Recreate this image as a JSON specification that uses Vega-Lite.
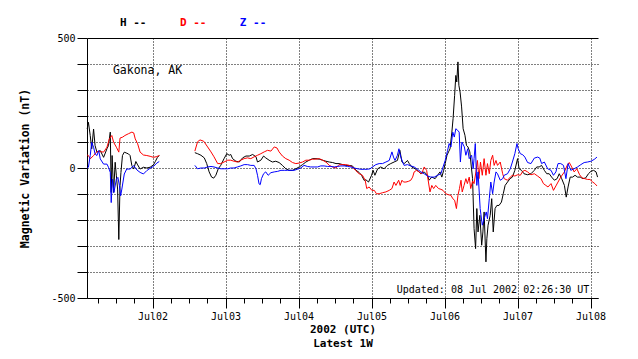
{
"$schema": "https://vega.github.io/schema/vega-lite/v6.json",
"width": 511, "height": 260,
"autosize": "none",
"padding": {"left": 87, "top": 38, "right": 40, "bottom": 61},
"background": "white",
"config": {"view": {"stroke": null}, "font": "DejaVu Sans Mono"},
"layer": [
{
"data": {"values": [
{"t":"2002-07-01T02:30Z","v":150,"s":"H","g":1},{"t":"2002-07-01T02:54Z","v":176,"s":"H","g":1},{"t":"2002-07-01T03:30Z","v":125,"s":"H","g":1},{"t":"2002-07-01T04:00Z","v":74,"s":"H","g":1},{"t":"2002-07-01T04:36Z","v":150,"s":"H","g":1},{"t":"2002-07-01T05:06Z","v":86,"s":"H","g":1},{"t":"2002-07-01T05:42Z","v":61,"s":"H","g":1},{"t":"2002-07-01T06:48Z","v":67,"s":"H","g":1},{"t":"2002-07-01T07:54Z","v":41,"s":"H","g":1},{"t":"2002-07-01T09:00Z","v":74,"s":"H","g":1},{"t":"2002-07-01T09:30Z","v":86,"s":"H","g":1},{"t":"2002-07-01T10:06Z","v":138,"s":"H","g":1},{"t":"2002-07-01T10:24Z","v":-94,"s":"H","g":1},{"t":"2002-07-01T10:42Z","v":48,"s":"H","g":1},{"t":"2002-07-01T11:12Z","v":-94,"s":"H","g":1},{"t":"2002-07-01T11:42Z","v":22,"s":"H","g":1},{"t":"2002-07-01T12:06Z","v":-30,"s":"H","g":1},{"t":"2002-07-01T12:30Z","v":-81,"s":"H","g":1},{"t":"2002-07-01T12:54Z","v":-275,"s":"H","g":1},{"t":"2002-07-01T13:18Z","v":-68,"s":"H","g":1},{"t":"2002-07-01T13:36Z","v":-17,"s":"H","g":1},{"t":"2002-07-01T14:06Z","v":48,"s":"H","g":1},{"t":"2002-07-01T14:42Z","v":61,"s":"H","g":1},{"t":"2002-07-01T15:18Z","v":58,"s":"H","g":1},{"t":"2002-07-01T16:06Z","v":54,"s":"H","g":1},{"t":"2002-07-01T16:36Z","v":48,"s":"H","g":1},{"t":"2002-07-01T17:12Z","v":9,"s":"H","g":1},{"t":"2002-07-01T17:48Z","v":-4,"s":"H","g":1},{"t":"2002-07-01T18:30Z","v":25,"s":"H","g":1},{"t":"2002-07-01T19:06Z","v":12,"s":"H","g":1},{"t":"2002-07-01T19:54Z","v":-4,"s":"H","g":1},{"t":"2002-07-01T21:00Z","v":3,"s":"H","g":1},{"t":"2002-07-01T22:06Z","v":0,"s":"H","g":1},{"t":"2002-07-01T23:12Z","v":3,"s":"H","g":1},{"t":"2002-07-02T00:18Z","v":12,"s":"H","g":1},{"t":"2002-07-02T00:54Z","v":25,"s":"H","g":1},{"t":"2002-07-02T01:36Z","v":41,"s":"H","g":1},{"t":"2002-07-02T02:12Z","v":48,"s":"H","g":1},
{"t":"2002-07-02T13:54Z","v":59,"s":"H","g":2},{"t":"2002-07-02T14:48Z","v":55,"s":"H","g":2},{"t":"2002-07-02T15:54Z","v":49,"s":"H","g":2},{"t":"2002-07-02T17:00Z","v":39,"s":"H","g":2},{"t":"2002-07-02T17:48Z","v":17,"s":"H","g":2},{"t":"2002-07-02T18:36Z","v":-15,"s":"H","g":2},{"t":"2002-07-02T19:24Z","v":-35,"s":"H","g":2},{"t":"2002-07-02T20:06Z","v":-39,"s":"H","g":2},{"t":"2002-07-02T20:48Z","v":-28,"s":"H","g":2},{"t":"2002-07-02T21:36Z","v":-3,"s":"H","g":2},{"t":"2002-07-02T22:24Z","v":10,"s":"H","g":2},{"t":"2002-07-02T23:30Z","v":36,"s":"H","g":2},{"t":"2002-07-03T00:24Z","v":55,"s":"H","g":2},{"t":"2002-07-03T01:12Z","v":49,"s":"H","g":2},{"t":"2002-07-03T01:42Z","v":52,"s":"H","g":2},{"t":"2002-07-03T02:18Z","v":36,"s":"H","g":2},{"t":"2002-07-03T03:24Z","v":26,"s":"H","g":2},{"t":"2002-07-03T04:30Z","v":23,"s":"H","g":2},{"t":"2002-07-03T05:36Z","v":39,"s":"H","g":2},{"t":"2002-07-03T06:42Z","v":46,"s":"H","g":2},{"t":"2002-07-03T07:48Z","v":46,"s":"H","g":2},{"t":"2002-07-03T08:54Z","v":52,"s":"H","g":2},{"t":"2002-07-03T10:00Z","v":43,"s":"H","g":2},{"t":"2002-07-03T10:30Z","v":23,"s":"H","g":2},{"t":"2002-07-03T11:36Z","v":30,"s":"H","g":2},{"t":"2002-07-03T12:30Z","v":46,"s":"H","g":2},{"t":"2002-07-03T13:12Z","v":39,"s":"H","g":2},{"t":"2002-07-03T14:18Z","v":30,"s":"H","g":2},{"t":"2002-07-03T15:24Z","v":23,"s":"H","g":2},{"t":"2002-07-03T16:30Z","v":26,"s":"H","g":2},{"t":"2002-07-03T17:36Z","v":21,"s":"H","g":2},{"t":"2002-07-03T18:42Z","v":10,"s":"H","g":2},{"t":"2002-07-03T19:48Z","v":-3,"s":"H","g":2},{"t":"2002-07-03T20:54Z","v":-9,"s":"H","g":2},{"t":"2002-07-03T22:00Z","v":-9,"s":"H","g":2},{"t":"2002-07-03T23:06Z","v":-3,"s":"H","g":2},{"t":"2002-07-04T00:12Z","v":4,"s":"H","g":2},{"t":"2002-07-04T01:18Z","v":13,"s":"H","g":2},{"t":"2002-07-04T02:24Z","v":23,"s":"H","g":2},{"t":"2002-07-04T03:30Z","v":30,"s":"H","g":2},{"t":"2002-07-04T04:36Z","v":36,"s":"H","g":2},{"t":"2002-07-04T05:42Z","v":36,"s":"H","g":2},{"t":"2002-07-04T06:48Z","v":34,"s":"H","g":2},{"t":"2002-07-04T07:54Z","v":30,"s":"H","g":2},{"t":"2002-07-04T09:00Z","v":26,"s":"H","g":2},{"t":"2002-07-04T10:06Z","v":23,"s":"H","g":2},{"t":"2002-07-04T11:12Z","v":21,"s":"H","g":2},{"t":"2002-07-04T12:18Z","v":17,"s":"H","g":2},{"t":"2002-07-04T13:18Z","v":17,"s":"H","g":2},{"t":"2002-07-04T14:30Z","v":13,"s":"H","g":2},{"t":"2002-07-04T15:30Z","v":10,"s":"H","g":2},{"t":"2002-07-04T16:36Z","v":10,"s":"H","g":2},{"t":"2002-07-04T17:42Z","v":8,"s":"H","g":2},{"t":"2002-07-04T18:48Z","v":-8,"s":"H","g":2},{"t":"2002-07-04T19:54Z","v":-17,"s":"H","g":2},{"t":"2002-07-04T20:42Z","v":-28,"s":"H","g":2},{"t":"2002-07-04T21:36Z","v":-48,"s":"H","g":2},{"t":"2002-07-04T22:06Z","v":-45,"s":"H","g":2},{"t":"2002-07-04T23:00Z","v":-54,"s":"H","g":2},{"t":"2002-07-05T00:00Z","v":-28,"s":"H","g":2},{"t":"2002-07-05T00:30Z","v":-9,"s":"H","g":2},{"t":"2002-07-05T01:06Z","v":-28,"s":"H","g":2},{"t":"2002-07-05T02:00Z","v":-3,"s":"H","g":2},{"t":"2002-07-05T03:00Z","v":4,"s":"H","g":2},{"t":"2002-07-05T04:06Z","v":-3,"s":"H","g":2},{"t":"2002-07-05T05:12Z","v":10,"s":"H","g":2},{"t":"2002-07-05T06:18Z","v":17,"s":"H","g":2},{"t":"2002-07-05T07:24Z","v":23,"s":"H","g":2},{"t":"2002-07-05T08:30Z","v":29,"s":"H","g":2},{"t":"2002-07-05T09:18Z","v":68,"s":"H","g":2},{"t":"2002-07-05T10:00Z","v":23,"s":"H","g":2},{"t":"2002-07-05T10:42Z","v":17,"s":"H","g":2},{"t":"2002-07-05T11:18Z","v":23,"s":"H","g":2},{"t":"2002-07-05T11:48Z","v":29,"s":"H","g":2},{"t":"2002-07-05T12:24Z","v":17,"s":"H","g":2},{"t":"2002-07-05T13:12Z","v":4,"s":"H","g":2},{"t":"2002-07-05T14:18Z","v":-3,"s":"H","g":2},{"t":"2002-07-05T15:24Z","v":-13,"s":"H","g":2},{"t":"2002-07-05T16:12Z","v":-22,"s":"H","g":2},{"t":"2002-07-05T17:18Z","v":-15,"s":"H","g":2},{"t":"2002-07-05T18:24Z","v":-28,"s":"H","g":2},{"t":"2002-07-05T18:54Z","v":-47,"s":"H","g":2},{"t":"2002-07-05T19:48Z","v":-35,"s":"H","g":2},{"t":"2002-07-05T20:54Z","v":-41,"s":"H","g":2},{"t":"2002-07-05T21:42Z","v":-28,"s":"H","g":2},{"t":"2002-07-05T22:30Z","v":-15,"s":"H","g":2},{"t":"2002-07-05T23:06Z","v":-35,"s":"H","g":2},{"t":"2002-07-05T23:42Z","v":-9,"s":"H","g":2},{"t":"2002-07-06T00:12Z","v":17,"s":"H","g":2},{"t":"2002-07-06T00:48Z","v":49,"s":"H","g":2},{"t":"2002-07-06T01:18Z","v":62,"s":"H","g":2},{"t":"2002-07-06T01:48Z","v":74,"s":"H","g":2},{"t":"2002-07-06T02:24Z","v":138,"s":"H","g":2},{"t":"2002-07-06T02:48Z","v":190,"s":"H","g":2},{"t":"2002-07-06T03:18Z","v":279,"s":"H","g":2},{"t":"2002-07-06T03:42Z","v":356,"s":"H","g":2},{"t":"2002-07-06T04:00Z","v":331,"s":"H","g":2},{"t":"2002-07-06T04:24Z","v":408,"s":"H","g":2},{"t":"2002-07-06T04:42Z","v":318,"s":"H","g":2},{"t":"2002-07-06T05:06Z","v":292,"s":"H","g":2},{"t":"2002-07-06T05:36Z","v":235,"s":"H","g":2},{"t":"2002-07-06T06:06Z","v":151,"s":"H","g":2},{"t":"2002-07-06T06:42Z","v":126,"s":"H","g":2},{"t":"2002-07-06T07:12Z","v":87,"s":"H","g":2},{"t":"2002-07-06T07:42Z","v":81,"s":"H","g":2},{"t":"2002-07-06T08:18Z","v":62,"s":"H","g":2},{"t":"2002-07-06T08:48Z","v":4,"s":"H","g":2},{"t":"2002-07-06T09:12Z","v":-40,"s":"H","g":2},{"t":"2002-07-06T09:42Z","v":-233,"s":"H","g":2},{"t":"2002-07-06T10:12Z","v":-310,"s":"H","g":2},{"t":"2002-07-06T10:36Z","v":-156,"s":"H","g":2},{"t":"2002-07-06T11:00Z","v":-246,"s":"H","g":2},{"t":"2002-07-06T11:36Z","v":-182,"s":"H","g":2},{"t":"2002-07-06T12:12Z","v":-297,"s":"H","g":2},{"t":"2002-07-06T12:36Z","v":-246,"s":"H","g":2},{"t":"2002-07-06T13:00Z","v":-169,"s":"H","g":2},{"t":"2002-07-06T13:36Z","v":-361,"s":"H","g":2},{"t":"2002-07-06T13:54Z","v":-272,"s":"H","g":2},{"t":"2002-07-06T14:18Z","v":-220,"s":"H","g":2},{"t":"2002-07-06T15:00Z","v":-182,"s":"H","g":2},{"t":"2002-07-06T15:30Z","v":-118,"s":"H","g":2},{"t":"2002-07-06T16:00Z","v":-246,"s":"H","g":2},{"t":"2002-07-06T16:36Z","v":-156,"s":"H","g":2},{"t":"2002-07-06T17:12Z","v":-144,"s":"H","g":2},{"t":"2002-07-06T17:54Z","v":-144,"s":"H","g":2},{"t":"2002-07-06T18:42Z","v":-131,"s":"H","g":2},{"t":"2002-07-06T19:18Z","v":-99,"s":"H","g":2},{"t":"2002-07-06T19:54Z","v":-67,"s":"H","g":2},{"t":"2002-07-06T20:42Z","v":-54,"s":"H","g":2},{"t":"2002-07-06T21:30Z","v":-41,"s":"H","g":2},{"t":"2002-07-06T22:18Z","v":-35,"s":"H","g":2},{"t":"2002-07-06T23:06Z","v":-9,"s":"H","g":2},{"t":"2002-07-07T00:00Z","v":36,"s":"H","g":2},{"t":"2002-07-07T00:30Z","v":-3,"s":"H","g":2},{"t":"2002-07-07T01:18Z","v":-9,"s":"H","g":2},{"t":"2002-07-07T02:06Z","v":-22,"s":"H","g":2},{"t":"2002-07-07T03:18Z","v":-26,"s":"H","g":2},{"t":"2002-07-07T04:24Z","v":-22,"s":"H","g":2},{"t":"2002-07-07T05:30Z","v":-9,"s":"H","g":2},{"t":"2002-07-07T06:18Z","v":4,"s":"H","g":2},{"t":"2002-07-07T07:06Z","v":4,"s":"H","g":2},{"t":"2002-07-07T07:54Z","v":10,"s":"H","g":2},{"t":"2002-07-07T08:48Z","v":-9,"s":"H","g":2},{"t":"2002-07-07T09:36Z","v":-22,"s":"H","g":2},{"t":"2002-07-07T10:24Z","v":-22,"s":"H","g":2},{"t":"2002-07-07T11:12Z","v":-35,"s":"H","g":2},{"t":"2002-07-07T12:06Z","v":-47,"s":"H","g":2},{"t":"2002-07-07T13:00Z","v":-41,"s":"H","g":2},{"t":"2002-07-07T13:42Z","v":-22,"s":"H","g":2},{"t":"2002-07-07T14:30Z","v":-41,"s":"H","g":2},{"t":"2002-07-07T15:24Z","v":-67,"s":"H","g":2},{"t":"2002-07-07T16:00Z","v":-112,"s":"H","g":2},{"t":"2002-07-07T16:36Z","v":-73,"s":"H","g":2},{"t":"2002-07-07T17:18Z","v":-35,"s":"H","g":2},{"t":"2002-07-07T18:06Z","v":-35,"s":"H","g":2},{"t":"2002-07-07T18:54Z","v":-28,"s":"H","g":2},{"t":"2002-07-07T19:42Z","v":-35,"s":"H","g":2},{"t":"2002-07-07T20:36Z","v":-35,"s":"H","g":2},{"t":"2002-07-07T21:30Z","v":-41,"s":"H","g":2},{"t":"2002-07-07T22:24Z","v":-38,"s":"H","g":2},{"t":"2002-07-07T23:18Z","v":-22,"s":"H","g":2},{"t":"2002-07-08T00:06Z","v":-13,"s":"H","g":2},{"t":"2002-07-08T01:00Z","v":-9,"s":"H","g":2},{"t":"2002-07-08T01:48Z","v":-15,"s":"H","g":2},{"t":"2002-07-08T02:18Z","v":-35,"s":"H","g":2},
{"t":"2002-07-01T02:30Z","v":50,"s":"D","g":1},{"t":"2002-07-01T02:54Z","v":48,"s":"D","g":1},{"t":"2002-07-01T03:30Z","v":35,"s":"D","g":1},{"t":"2002-07-01T04:36Z","v":48,"s":"D","g":1},{"t":"2002-07-01T05:42Z","v":63,"s":"D","g":1},{"t":"2002-07-01T06:48Z","v":63,"s":"D","g":1},{"t":"2002-07-01T07:54Z","v":61,"s":"D","g":1},{"t":"2002-07-01T09:00Z","v":80,"s":"D","g":1},{"t":"2002-07-01T09:48Z","v":112,"s":"D","g":1},{"t":"2002-07-01T10:36Z","v":125,"s":"D","g":1},{"t":"2002-07-01T11:12Z","v":99,"s":"D","g":1},{"t":"2002-07-01T12:06Z","v":80,"s":"D","g":1},{"t":"2002-07-01T12:54Z","v":61,"s":"D","g":1},{"t":"2002-07-01T13:18Z","v":115,"s":"D","g":1},{"t":"2002-07-01T14:12Z","v":119,"s":"D","g":1},{"t":"2002-07-01T14:54Z","v":125,"s":"D","g":1},{"t":"2002-07-01T16:06Z","v":132,"s":"D","g":1},{"t":"2002-07-01T17:12Z","v":138,"s":"D","g":1},{"t":"2002-07-01T17:48Z","v":135,"s":"D","g":1},{"t":"2002-07-01T18:18Z","v":112,"s":"D","g":1},{"t":"2002-07-01T19:06Z","v":93,"s":"D","g":1},{"t":"2002-07-01T19:54Z","v":61,"s":"D","g":1},{"t":"2002-07-01T21:00Z","v":50,"s":"D","g":1},{"t":"2002-07-01T22:06Z","v":48,"s":"D","g":1},{"t":"2002-07-01T23:12Z","v":45,"s":"D","g":1},{"t":"2002-07-02T00:18Z","v":41,"s":"D","g":1},{"t":"2002-07-02T01:24Z","v":44,"s":"D","g":1},{"t":"2002-07-02T02:12Z","v":48,"s":"D","g":1},
{"t":"2002-07-02T13:54Z","v":65,"s":"D","g":2},{"t":"2002-07-02T14:48Z","v":101,"s":"D","g":2},{"t":"2002-07-02T15:36Z","v":108,"s":"D","g":2},{"t":"2002-07-02T16:48Z","v":103,"s":"D","g":2},{"t":"2002-07-02T18:06Z","v":81,"s":"D","g":2},{"t":"2002-07-02T19:12Z","v":62,"s":"D","g":2},{"t":"2002-07-02T20:12Z","v":43,"s":"D","g":2},{"t":"2002-07-02T21:24Z","v":17,"s":"D","g":2},{"t":"2002-07-02T22:24Z","v":17,"s":"D","g":2},{"t":"2002-07-02T23:30Z","v":23,"s":"D","g":2},{"t":"2002-07-03T00:42Z","v":30,"s":"D","g":2},{"t":"2002-07-03T01:42Z","v":30,"s":"D","g":2},{"t":"2002-07-03T02:48Z","v":26,"s":"D","g":2},{"t":"2002-07-03T03:54Z","v":23,"s":"D","g":2},{"t":"2002-07-03T05:00Z","v":30,"s":"D","g":2},{"t":"2002-07-03T06:06Z","v":36,"s":"D","g":2},{"t":"2002-07-03T07:12Z","v":39,"s":"D","g":2},{"t":"2002-07-03T08:18Z","v":36,"s":"D","g":2},{"t":"2002-07-03T09:24Z","v":43,"s":"D","g":2},{"t":"2002-07-03T10:30Z","v":49,"s":"D","g":2},{"t":"2002-07-03T11:36Z","v":55,"s":"D","g":2},{"t":"2002-07-03T12:42Z","v":62,"s":"D","g":2},{"t":"2002-07-03T13:48Z","v":68,"s":"D","g":2},{"t":"2002-07-03T14:54Z","v":65,"s":"D","g":2},{"t":"2002-07-03T16:00Z","v":81,"s":"D","g":2},{"t":"2002-07-03T16:54Z","v":77,"s":"D","g":2},{"t":"2002-07-03T17:36Z","v":62,"s":"D","g":2},{"t":"2002-07-03T18:42Z","v":46,"s":"D","g":2},{"t":"2002-07-03T19:48Z","v":36,"s":"D","g":2},{"t":"2002-07-03T20:54Z","v":30,"s":"D","g":2},{"t":"2002-07-03T22:00Z","v":21,"s":"D","g":2},{"t":"2002-07-03T23:06Z","v":17,"s":"D","g":2},{"t":"2002-07-04T00:12Z","v":19,"s":"D","g":2},{"t":"2002-07-04T01:18Z","v":23,"s":"D","g":2},{"t":"2002-07-04T02:24Z","v":30,"s":"D","g":2},{"t":"2002-07-04T03:30Z","v":30,"s":"D","g":2},{"t":"2002-07-04T04:36Z","v":34,"s":"D","g":2},{"t":"2002-07-04T05:42Z","v":34,"s":"D","g":2},{"t":"2002-07-04T06:48Z","v":36,"s":"D","g":2},{"t":"2002-07-04T07:54Z","v":30,"s":"D","g":2},{"t":"2002-07-04T09:00Z","v":23,"s":"D","g":2},{"t":"2002-07-04T10:06Z","v":10,"s":"D","g":2},{"t":"2002-07-04T11:12Z","v":4,"s":"D","g":2},{"t":"2002-07-04T12:18Z","v":0,"s":"D","g":2},{"t":"2002-07-04T13:18Z","v":13,"s":"D","g":2},{"t":"2002-07-04T14:30Z","v":13,"s":"D","g":2},{"t":"2002-07-04T15:30Z","v":13,"s":"D","g":2},{"t":"2002-07-04T16:36Z","v":10,"s":"D","g":2},{"t":"2002-07-04T17:42Z","v":4,"s":"D","g":2},{"t":"2002-07-04T18:48Z","v":-10,"s":"D","g":2},{"t":"2002-07-04T19:54Z","v":-22,"s":"D","g":2},{"t":"2002-07-04T21:00Z","v":-28,"s":"D","g":2},{"t":"2002-07-04T21:54Z","v":-47,"s":"D","g":2},{"t":"2002-07-04T22:24Z","v":-79,"s":"D","g":2},{"t":"2002-07-04T23:12Z","v":-73,"s":"D","g":2},{"t":"2002-07-05T00:06Z","v":-86,"s":"D","g":2},{"t":"2002-07-05T00:54Z","v":-86,"s":"D","g":2},{"t":"2002-07-05T01:36Z","v":-99,"s":"D","g":2},{"t":"2002-07-05T02:30Z","v":-99,"s":"D","g":2},{"t":"2002-07-05T03:36Z","v":-95,"s":"D","g":2},{"t":"2002-07-05T04:42Z","v":-92,"s":"D","g":2},{"t":"2002-07-05T05:48Z","v":-86,"s":"D","g":2},{"t":"2002-07-05T06:42Z","v":-79,"s":"D","g":2},{"t":"2002-07-05T07:24Z","v":-54,"s":"D","g":2},{"t":"2002-07-05T08:00Z","v":-67,"s":"D","g":2},{"t":"2002-07-05T08:54Z","v":-47,"s":"D","g":2},{"t":"2002-07-05T09:24Z","v":-67,"s":"D","g":2},{"t":"2002-07-05T10:00Z","v":-47,"s":"D","g":2},{"t":"2002-07-05T10:30Z","v":-54,"s":"D","g":2},{"t":"2002-07-05T11:18Z","v":-54,"s":"D","g":2},{"t":"2002-07-05T12:12Z","v":-51,"s":"D","g":2},{"t":"2002-07-05T12:54Z","v":-47,"s":"D","g":2},{"t":"2002-07-05T13:30Z","v":-35,"s":"D","g":2},{"t":"2002-07-05T14:00Z","v":-15,"s":"D","g":2},{"t":"2002-07-05T14:48Z","v":-9,"s":"D","g":2},{"t":"2002-07-05T15:36Z","v":-15,"s":"D","g":2},{"t":"2002-07-05T16:30Z","v":-22,"s":"D","g":2},{"t":"2002-07-05T17:18Z","v":4,"s":"D","g":2},{"t":"2002-07-05T18:06Z","v":-9,"s":"D","g":2},{"t":"2002-07-05T18:42Z","v":-54,"s":"D","g":2},{"t":"2002-07-05T19:12Z","v":-92,"s":"D","g":2},{"t":"2002-07-05T19:48Z","v":-67,"s":"D","g":2},{"t":"2002-07-05T20:24Z","v":-79,"s":"D","g":2},{"t":"2002-07-05T21:06Z","v":-67,"s":"D","g":2},{"t":"2002-07-05T22:00Z","v":-79,"s":"D","g":2},{"t":"2002-07-05T22:48Z","v":-82,"s":"D","g":2},{"t":"2002-07-05T23:30Z","v":-86,"s":"D","g":2},{"t":"2002-07-06T00:24Z","v":-99,"s":"D","g":2},{"t":"2002-07-06T01:18Z","v":-103,"s":"D","g":2},{"t":"2002-07-06T02:06Z","v":-105,"s":"D","g":2},{"t":"2002-07-06T02:42Z","v":-118,"s":"D","g":2},{"t":"2002-07-06T03:18Z","v":-124,"s":"D","g":2},{"t":"2002-07-06T03:54Z","v":-156,"s":"D","g":2},{"t":"2002-07-06T04:24Z","v":-105,"s":"D","g":2},{"t":"2002-07-06T04:54Z","v":-79,"s":"D","g":2},{"t":"2002-07-06T05:24Z","v":-47,"s":"D","g":2},{"t":"2002-07-06T05:48Z","v":-92,"s":"D","g":2},{"t":"2002-07-06T06:24Z","v":-67,"s":"D","g":2},{"t":"2002-07-06T07:00Z","v":-41,"s":"D","g":2},{"t":"2002-07-06T07:30Z","v":-60,"s":"D","g":2},{"t":"2002-07-06T08:06Z","v":-35,"s":"D","g":2},{"t":"2002-07-06T08:36Z","v":-79,"s":"D","g":2},{"t":"2002-07-06T09:12Z","v":-50,"s":"D","g":2},{"t":"2002-07-06T09:42Z","v":-60,"s":"D","g":2},{"t":"2002-07-06T10:18Z","v":-15,"s":"D","g":2},{"t":"2002-07-06T10:48Z","v":29,"s":"D","g":2},{"t":"2002-07-06T11:18Z","v":-41,"s":"D","g":2},{"t":"2002-07-06T11:48Z","v":23,"s":"D","g":2},{"t":"2002-07-06T12:24Z","v":-28,"s":"D","g":2},{"t":"2002-07-06T13:00Z","v":36,"s":"D","g":2},{"t":"2002-07-06T13:36Z","v":-28,"s":"D","g":2},{"t":"2002-07-06T14:06Z","v":17,"s":"D","g":2},{"t":"2002-07-06T14:42Z","v":-22,"s":"D","g":2},{"t":"2002-07-06T15:12Z","v":29,"s":"D","g":2},{"t":"2002-07-06T15:48Z","v":49,"s":"D","g":2},{"t":"2002-07-06T16:18Z","v":10,"s":"D","g":2},{"t":"2002-07-06T16:54Z","v":29,"s":"D","g":2},{"t":"2002-07-06T17:24Z","v":10,"s":"D","g":2},{"t":"2002-07-06T18:18Z","v":23,"s":"D","g":2},{"t":"2002-07-06T19:06Z","v":-22,"s":"D","g":2},{"t":"2002-07-06T19:36Z","v":-41,"s":"D","g":2},{"t":"2002-07-06T20:42Z","v":-47,"s":"D","g":2},{"t":"2002-07-06T21:36Z","v":-35,"s":"D","g":2},{"t":"2002-07-06T22:18Z","v":-28,"s":"D","g":2},{"t":"2002-07-06T23:06Z","v":-31,"s":"D","g":2},{"t":"2002-07-07T00:00Z","v":-26,"s":"D","g":2},{"t":"2002-07-07T00:54Z","v":-28,"s":"D","g":2},{"t":"2002-07-07T01:42Z","v":-13,"s":"D","g":2},{"t":"2002-07-07T02:24Z","v":-9,"s":"D","g":2},{"t":"2002-07-07T03:18Z","v":-15,"s":"D","g":2},{"t":"2002-07-07T04:24Z","v":-26,"s":"D","g":2},{"t":"2002-07-07T05:30Z","v":-22,"s":"D","g":2},{"t":"2002-07-07T06:36Z","v":-31,"s":"D","g":2},{"t":"2002-07-07T07:42Z","v":-41,"s":"D","g":2},{"t":"2002-07-07T08:30Z","v":-60,"s":"D","g":2},{"t":"2002-07-07T09:18Z","v":-67,"s":"D","g":2},{"t":"2002-07-07T10:00Z","v":-73,"s":"D","g":2},{"t":"2002-07-07T11:00Z","v":-60,"s":"D","g":2},{"t":"2002-07-07T11:48Z","v":-86,"s":"D","g":2},{"t":"2002-07-07T12:36Z","v":-69,"s":"D","g":2},{"t":"2002-07-07T13:18Z","v":-54,"s":"D","g":2},{"t":"2002-07-07T14:12Z","v":-35,"s":"D","g":2},{"t":"2002-07-07T15:24Z","v":-15,"s":"D","g":2},{"t":"2002-07-07T16:18Z","v":10,"s":"D","g":2},{"t":"2002-07-07T17:00Z","v":21,"s":"D","g":2},{"t":"2002-07-07T17:48Z","v":4,"s":"D","g":2},{"t":"2002-07-07T18:36Z","v":-15,"s":"D","g":2},{"t":"2002-07-07T19:30Z","v":-3,"s":"D","g":2},{"t":"2002-07-07T20:24Z","v":-26,"s":"D","g":2},{"t":"2002-07-07T21:12Z","v":-38,"s":"D","g":2},{"t":"2002-07-07T22:06Z","v":-41,"s":"D","g":2},{"t":"2002-07-07T23:00Z","v":-44,"s":"D","g":2},{"t":"2002-07-07T23:48Z","v":-44,"s":"D","g":2},{"t":"2002-07-08T00:42Z","v":-54,"s":"D","g":2},{"t":"2002-07-08T01:24Z","v":-60,"s":"D","g":2},{"t":"2002-07-08T02:06Z","v":-69,"s":"D","g":2},
{"t":"2002-07-01T02:30Z","v":0,"s":"Z","g":1},{"t":"2002-07-01T02:54Z","v":3,"s":"Z","g":1},{"t":"2002-07-01T03:30Z","v":48,"s":"Z","g":1},{"t":"2002-07-01T04:00Z","v":99,"s":"Z","g":1},{"t":"2002-07-01T04:36Z","v":80,"s":"Z","g":1},{"t":"2002-07-01T05:06Z","v":54,"s":"Z","g":1},{"t":"2002-07-01T05:42Z","v":48,"s":"Z","g":1},{"t":"2002-07-01T06:18Z","v":67,"s":"Z","g":1},{"t":"2002-07-01T06:48Z","v":35,"s":"Z","g":1},{"t":"2002-07-01T07:54Z","v":15,"s":"Z","g":1},{"t":"2002-07-01T09:00Z","v":15,"s":"Z","g":1},{"t":"2002-07-01T09:30Z","v":3,"s":"Z","g":1},{"t":"2002-07-01T10:06Z","v":-17,"s":"Z","g":1},{"t":"2002-07-01T10:24Z","v":-133,"s":"Z","g":1},{"t":"2002-07-01T10:48Z","v":-43,"s":"Z","g":1},{"t":"2002-07-01T11:18Z","v":-94,"s":"Z","g":1},{"t":"2002-07-01T12:06Z","v":-43,"s":"Z","g":1},{"t":"2002-07-01T12:36Z","v":-36,"s":"Z","g":1},{"t":"2002-07-01T13:06Z","v":-68,"s":"Z","g":1},{"t":"2002-07-01T13:30Z","v":-107,"s":"Z","g":1},{"t":"2002-07-01T13:54Z","v":-81,"s":"Z","g":1},{"t":"2002-07-01T14:42Z","v":-23,"s":"Z","g":1},{"t":"2002-07-01T15:30Z","v":-4,"s":"Z","g":1},{"t":"2002-07-01T16:36Z","v":-4,"s":"Z","g":1},{"t":"2002-07-01T17:48Z","v":9,"s":"Z","g":1},{"t":"2002-07-01T18:54Z","v":-8,"s":"Z","g":1},{"t":"2002-07-01T19:54Z","v":-17,"s":"Z","g":1},{"t":"2002-07-01T21:00Z","v":-23,"s":"Z","g":1},{"t":"2002-07-01T22:06Z","v":-10,"s":"Z","g":1},{"t":"2002-07-01T23:12Z","v":-1,"s":"Z","g":1},{"t":"2002-07-02T00:18Z","v":6,"s":"Z","g":1},{"t":"2002-07-02T01:24Z","v":19,"s":"Z","g":1},{"t":"2002-07-02T02:12Z","v":25,"s":"Z","g":1},
{"t":"2002-07-02T13:54Z","v":10,"s":"Z","g":2},{"t":"2002-07-02T14:48Z","v":-3,"s":"Z","g":2},{"t":"2002-07-02T15:54Z","v":0,"s":"Z","g":2},{"t":"2002-07-02T17:00Z","v":0,"s":"Z","g":2},{"t":"2002-07-02T18:06Z","v":4,"s":"Z","g":2},{"t":"2002-07-02T19:12Z","v":6,"s":"Z","g":2},{"t":"2002-07-02T20:12Z","v":4,"s":"Z","g":2},{"t":"2002-07-02T21:24Z","v":0,"s":"Z","g":2},{"t":"2002-07-02T22:24Z","v":-3,"s":"Z","g":2},{"t":"2002-07-02T23:30Z","v":-3,"s":"Z","g":2},{"t":"2002-07-03T00:42Z","v":-3,"s":"Z","g":2},{"t":"2002-07-03T01:42Z","v":0,"s":"Z","g":2},{"t":"2002-07-03T02:48Z","v":0,"s":"Z","g":2},{"t":"2002-07-03T03:54Z","v":4,"s":"Z","g":2},{"t":"2002-07-03T05:00Z","v":8,"s":"Z","g":2},{"t":"2002-07-03T06:06Z","v":13,"s":"Z","g":2},{"t":"2002-07-03T07:12Z","v":13,"s":"Z","g":2},{"t":"2002-07-03T08:18Z","v":10,"s":"Z","g":2},{"t":"2002-07-03T09:24Z","v":10,"s":"Z","g":2},{"t":"2002-07-03T10:00Z","v":-3,"s":"Z","g":2},{"t":"2002-07-03T10:30Z","v":-28,"s":"Z","g":2},{"t":"2002-07-03T11:00Z","v":-61,"s":"Z","g":2},{"t":"2002-07-03T11:24Z","v":-64,"s":"Z","g":2},{"t":"2002-07-03T11:48Z","v":-41,"s":"Z","g":2},{"t":"2002-07-03T12:30Z","v":-22,"s":"Z","g":2},{"t":"2002-07-03T13:12Z","v":-15,"s":"Z","g":2},{"t":"2002-07-03T14:00Z","v":-28,"s":"Z","g":2},{"t":"2002-07-03T14:54Z","v":-18,"s":"Z","g":2},{"t":"2002-07-03T16:00Z","v":-15,"s":"Z","g":2},{"t":"2002-07-03T17:06Z","v":-13,"s":"Z","g":2},{"t":"2002-07-03T18:12Z","v":-9,"s":"Z","g":2},{"t":"2002-07-03T19:18Z","v":-9,"s":"Z","g":2},{"t":"2002-07-03T20:24Z","v":-9,"s":"Z","g":2},{"t":"2002-07-03T21:30Z","v":-9,"s":"Z","g":2},{"t":"2002-07-03T22:30Z","v":-9,"s":"Z","g":2},{"t":"2002-07-03T23:36Z","v":-5,"s":"Z","g":2},{"t":"2002-07-04T00:42Z","v":0,"s":"Z","g":2},{"t":"2002-07-04T01:48Z","v":10,"s":"Z","g":2},{"t":"2002-07-04T02:54Z","v":6,"s":"Z","g":2},{"t":"2002-07-04T04:00Z","v":4,"s":"Z","g":2},{"t":"2002-07-04T05:06Z","v":4,"s":"Z","g":2},{"t":"2002-07-04T06:12Z","v":4,"s":"Z","g":2},{"t":"2002-07-04T07:18Z","v":8,"s":"Z","g":2},{"t":"2002-07-04T08:24Z","v":8,"s":"Z","g":2},{"t":"2002-07-04T09:30Z","v":6,"s":"Z","g":2},{"t":"2002-07-04T10:36Z","v":6,"s":"Z","g":2},{"t":"2002-07-04T11:42Z","v":4,"s":"Z","g":2},{"t":"2002-07-04T12:48Z","v":6,"s":"Z","g":2},{"t":"2002-07-04T13:54Z","v":8,"s":"Z","g":2},{"t":"2002-07-04T15:00Z","v":8,"s":"Z","g":2},{"t":"2002-07-04T16:06Z","v":6,"s":"Z","g":2},{"t":"2002-07-04T17:12Z","v":4,"s":"Z","g":2},{"t":"2002-07-04T18:18Z","v":0,"s":"Z","g":2},{"t":"2002-07-04T19:24Z","v":-3,"s":"Z","g":2},{"t":"2002-07-04T20:30Z","v":-5,"s":"Z","g":2},{"t":"2002-07-04T21:36Z","v":-5,"s":"Z","g":2},{"t":"2002-07-04T22:36Z","v":-5,"s":"Z","g":2},{"t":"2002-07-04T23:30Z","v":-3,"s":"Z","g":2},{"t":"2002-07-05T00:18Z","v":4,"s":"Z","g":2},{"t":"2002-07-05T01:24Z","v":13,"s":"Z","g":2},{"t":"2002-07-05T02:30Z","v":17,"s":"Z","g":2},{"t":"2002-07-05T03:36Z","v":17,"s":"Z","g":2},{"t":"2002-07-05T04:42Z","v":23,"s":"Z","g":2},{"t":"2002-07-05T05:48Z","v":29,"s":"Z","g":2},{"t":"2002-07-05T06:42Z","v":62,"s":"Z","g":2},{"t":"2002-07-05T07:12Z","v":42,"s":"Z","g":2},{"t":"2002-07-05T07:42Z","v":29,"s":"Z","g":2},{"t":"2002-07-05T08:30Z","v":49,"s":"Z","g":2},{"t":"2002-07-05T09:00Z","v":74,"s":"Z","g":2},{"t":"2002-07-05T09:36Z","v":42,"s":"Z","g":2},{"t":"2002-07-05T10:12Z","v":23,"s":"Z","g":2},{"t":"2002-07-05T10:42Z","v":10,"s":"Z","g":2},{"t":"2002-07-05T11:48Z","v":13,"s":"Z","g":2},{"t":"2002-07-05T12:54Z","v":8,"s":"Z","g":2},{"t":"2002-07-05T14:00Z","v":4,"s":"Z","g":2},{"t":"2002-07-05T15:06Z","v":-5,"s":"Z","g":2},{"t":"2002-07-05T16:12Z","v":-15,"s":"Z","g":2},{"t":"2002-07-05T17:18Z","v":-22,"s":"Z","g":2},{"t":"2002-07-05T18:24Z","v":-31,"s":"Z","g":2},{"t":"2002-07-05T19:30Z","v":-35,"s":"Z","g":2},{"t":"2002-07-05T20:36Z","v":-35,"s":"Z","g":2},{"t":"2002-07-05T21:42Z","v":-28,"s":"Z","g":2},{"t":"2002-07-05T22:48Z","v":-22,"s":"Z","g":2},{"t":"2002-07-05T23:30Z","v":4,"s":"Z","g":2},{"t":"2002-07-06T00:12Z","v":29,"s":"Z","g":2},{"t":"2002-07-06T01:00Z","v":68,"s":"Z","g":2},{"t":"2002-07-06T01:30Z","v":94,"s":"Z","g":2},{"t":"2002-07-06T02:06Z","v":81,"s":"Z","g":2},{"t":"2002-07-06T02:42Z","v":138,"s":"Z","g":2},{"t":"2002-07-06T03:12Z","v":119,"s":"Z","g":2},{"t":"2002-07-06T03:42Z","v":151,"s":"Z","g":2},{"t":"2002-07-06T04:18Z","v":145,"s":"Z","g":2},{"t":"2002-07-06T04:48Z","v":138,"s":"Z","g":2},{"t":"2002-07-06T05:12Z","v":23,"s":"Z","g":2},{"t":"2002-07-06T05:42Z","v":100,"s":"Z","g":2},{"t":"2002-07-06T06:30Z","v":81,"s":"Z","g":2},{"t":"2002-07-06T07:00Z","v":49,"s":"Z","g":2},{"t":"2002-07-06T07:36Z","v":74,"s":"Z","g":2},{"t":"2002-07-06T08:06Z","v":36,"s":"Z","g":2},{"t":"2002-07-06T08:54Z","v":49,"s":"Z","g":2},{"t":"2002-07-06T09:24Z","v":-3,"s":"Z","g":2},{"t":"2002-07-06T09:42Z","v":36,"s":"Z","g":2},{"t":"2002-07-06T10:06Z","v":94,"s":"Z","g":2},{"t":"2002-07-06T10:36Z","v":-67,"s":"Z","g":2},{"t":"2002-07-06T11:00Z","v":-15,"s":"Z","g":2},{"t":"2002-07-06T11:42Z","v":-156,"s":"Z","g":2},{"t":"2002-07-06T12:24Z","v":-220,"s":"Z","g":2},{"t":"2002-07-06T13:00Z","v":-195,"s":"Z","g":2},{"t":"2002-07-06T13:42Z","v":-169,"s":"Z","g":2},{"t":"2002-07-06T14:06Z","v":-195,"s":"Z","g":2},{"t":"2002-07-06T14:42Z","v":-118,"s":"Z","g":2},{"t":"2002-07-06T15:12Z","v":-54,"s":"Z","g":2},{"t":"2002-07-06T15:48Z","v":-99,"s":"Z","g":2},{"t":"2002-07-06T16:18Z","v":-54,"s":"Z","g":2},{"t":"2002-07-06T16:54Z","v":-15,"s":"Z","g":2},{"t":"2002-07-06T17:24Z","v":-22,"s":"Z","g":2},{"t":"2002-07-06T18:18Z","v":-47,"s":"Z","g":2},{"t":"2002-07-06T19:06Z","v":-41,"s":"Z","g":2},{"t":"2002-07-06T19:36Z","v":-28,"s":"Z","g":2},{"t":"2002-07-06T20:42Z","v":-22,"s":"Z","g":2},{"t":"2002-07-06T21:36Z","v":-3,"s":"Z","g":2},{"t":"2002-07-06T22:18Z","v":23,"s":"Z","g":2},{"t":"2002-07-06T23:06Z","v":55,"s":"Z","g":2},{"t":"2002-07-06T23:48Z","v":94,"s":"Z","g":2},{"t":"2002-07-07T00:12Z","v":74,"s":"Z","g":2},{"t":"2002-07-07T00:54Z","v":55,"s":"Z","g":2},{"t":"2002-07-07T01:42Z","v":51,"s":"Z","g":2},{"t":"2002-07-07T02:24Z","v":42,"s":"Z","g":2},{"t":"2002-07-07T03:18Z","v":21,"s":"Z","g":2},{"t":"2002-07-07T04:24Z","v":17,"s":"Z","g":2},{"t":"2002-07-07T05:30Z","v":38,"s":"Z","g":2},{"t":"2002-07-07T06:36Z","v":42,"s":"Z","g":2},{"t":"2002-07-07T07:18Z","v":38,"s":"Z","g":2},{"t":"2002-07-07T07:54Z","v":17,"s":"Z","g":2},{"t":"2002-07-07T08:48Z","v":23,"s":"Z","g":2},{"t":"2002-07-07T09:54Z","v":-3,"s":"Z","g":2},{"t":"2002-07-07T11:00Z","v":-9,"s":"Z","g":2},{"t":"2002-07-07T11:48Z","v":-28,"s":"Z","g":2},{"t":"2002-07-07T12:36Z","v":-15,"s":"Z","g":2},{"t":"2002-07-07T13:18Z","v":17,"s":"Z","g":2},{"t":"2002-07-07T14:12Z","v":17,"s":"Z","g":2},{"t":"2002-07-07T15:06Z","v":10,"s":"Z","g":2},{"t":"2002-07-07T15:54Z","v":-41,"s":"Z","g":2},{"t":"2002-07-07T16:36Z","v":17,"s":"Z","g":2},{"t":"2002-07-07T17:30Z","v":-9,"s":"Z","g":2},{"t":"2002-07-07T18:36Z","v":-3,"s":"Z","g":2},{"t":"2002-07-07T19:42Z","v":4,"s":"Z","g":2},{"t":"2002-07-07T20:48Z","v":13,"s":"Z","g":2},{"t":"2002-07-07T21:54Z","v":21,"s":"Z","g":2},{"t":"2002-07-07T23:00Z","v":23,"s":"Z","g":2},{"t":"2002-07-08T00:06Z","v":26,"s":"Z","g":2},{"t":"2002-07-08T01:12Z","v":33,"s":"Z","g":2},{"t":"2002-07-08T02:06Z","v":42,"s":"Z","g":2}
]},
"mark": {"type": "line", "strokeWidth": 1},
"encoding": {
 "x": {"field": "t", "type": "temporal",
  "scale": {"type": "utc", "domain": [1025490390000, 1026095190000]},
  "axis": {
   "title": ["2002 (UTC)", "Latest 1W"],
   "titleFont": "DejaVu Sans Mono", "titleFontSize": 11, "titleFontWeight": "bold", "titleColor": "black", "titlePadding": 2, "titleLineHeight": 14,
   "tickCount": 28,
   "labelExpr": "utchours(datum.value) == 0 ? utcFormat(datum.value, '%b%d') : ''",
   "labelFont": "DejaVu Sans Mono", "labelFontSize": 10, "labelColor": "black", "labelPadding": 3,
   "labelOverlap": false, "labelFlush": false,
   "tickSize": 10,
   "tickDash": {"condition": {"test": "utchours(datum.value) != 0", "value": [5, 20]}, "value": []},
   "tickColor": "black", "domainColor": "black",
   "grid": true, "gridColor": "black", "gridDash": [1, 2],
   "gridOpacity": {"condition": {"test": "utchours(datum.value) == 0", "value": 1}, "value": 0}
  }},
 "y": {"field": "v", "type": "quantitative",
  "scale": {"domain": [-500, 500], "nice": false, "zero": false},
  "axis": {
   "title": "Magnetic Variation (nT)",
   "titleFont": "DejaVu Sans Mono", "titleFontSize": 11.5, "titleFontWeight": "bold", "titleColor": "black", "titlePadding": 20,
   "values": [-500, -400, -300, -200, -100, 0, 100, 200, 300, 400, 500],
   "tickCount": 11,
   "labelExpr": "datum.value == 0 ? '0' : datum.value == 500 ? '500' : datum.value == -500 ? '-500' : ''",
   "labelFont": "DejaVu Sans Mono", "labelFontSize": 10, "labelColor": "black", "labelPadding": 2,
   "tickSize": 10, "tickColor": "black", "domainColor": "black",
   "grid": true, "gridColor": "black",
   "gridDash": {"condition": {"test": "datum.value == 500", "value": []}, "value": [1, 2]}
  }},
 "color": {"field": "s", "type": "nominal",
  "scale": {"domain": ["H", "D", "Z"], "range": ["#000000", "#ff0000", "#0000ff"]},
  "legend": null},
 "detail": {"field": "g", "type": "nominal"}
}
},
{
"data": {"values": [
 {"t": "2002-07-01T13:17Z", "v": 556, "s": "H", "label": "H --"},
 {"t": "2002-07-02T09:00Z", "v": 556, "s": "D", "label": "D --"},
 {"t": "2002-07-03T04:42Z", "v": 556, "s": "Z", "label": "Z --"}
]},
"mark": {"type": "text", "align": "left", "baseline": "middle", "font": "DejaVu Sans Mono", "fontSize": 11, "fontWeight": "bold"},
"encoding": {"x": {"field": "t", "type": "temporal"}, "y": {"field": "v", "type": "quantitative"}, "text": {"field": "label"},
 "color": {"field": "s", "type": "nominal", "legend": null}}
},
{
"data": {"values": [{"t": "2002-07-01T10:57Z", "v": 373, "label": "Gakona, AK"}]},
"mark": {"type": "text", "align": "left", "baseline": "middle", "font": "DejaVu Sans Mono", "fontSize": 11.5, "color": "black"},
"encoding": {"x": {"field": "t", "type": "temporal"}, "y": {"field": "v", "type": "quantitative"}, "text": {"field": "label"}}
},
{
"data": {"values": [{"t": "2002-07-07T23:36Z", "v": -471, "label": "Updated: 08 Jul 2002 02:26:30 UT"}]},
"mark": {"type": "text", "align": "right", "baseline": "middle", "font": "DejaVu Sans Mono", "fontSize": 10, "color": "black"},
"encoding": {"x": {"field": "t", "type": "temporal"}, "y": {"field": "v", "type": "quantitative"}, "text": {"field": "label"}}
}
]
}
